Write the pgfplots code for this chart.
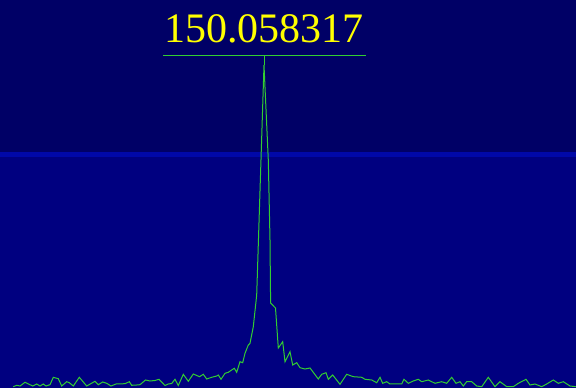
\documentclass[border=0pt]{standalone}
\usepackage{fontspec}
\setmainfont{Liberation Serif}
\usepackage{pgfplots}
\pgfplotsset{compat=1.18}

\definecolor{skytop}{RGB}{0,0,102}
\definecolor{skyband}{RGB}{0,8,168}
\definecolor{skybottom}{RGB}{0,0,128}
\definecolor{trace}{RGB}{50,205,50}
\definecolor{markerlabel}{RGB}{255,255,0}

\begin{document}
\begin{tikzpicture}
\begin{axis}[
  width=576pt, height=388pt, scale only axis,
  xmin=0, xmax=576, ymin=0, ymax=388,
  hide axis,
]
% display background: upper and lower panes with a brighter seam between them
\fill[skybottom] (axis cs:0,0) rectangle (axis cs:576,231);
\fill[skyband]   (axis cs:0,231) rectangle (axis cs:576,236);
\fill[skytop]    (axis cs:0,236) rectangle (axis cs:576,388);

% spectrum trace
\addplot[trace, line width=1pt, mark=none] coordinates {
(13.3,1.3) (16.7,2.7) (20,2) (25,5.7) (30,3.3) (32.7,2) (36.7,4) (40,2)
(43.3,4) (46,2) (50,3.3) (53.3,10.7) (58.3,9.3) (61.7,2) (66.7,6.3) (69.3,5.3)
(73.3,2) (79.3,10.7) (86.7,2) (95,6.7) (98.3,3.3) (102.7,6) (106.7,4.7) (111,2)
(116,4) (125,4.3) (129.3,6.3) (131.7,2.7) (136.7,3) (140,3.3) (145.5,8) (150,7)
(155,7.5) (159,8.7) (165,2.5) (168.3,4) (171.7,4.5) (175,8.7) (178.3,2.5)
(183.3,13.7) (188.3,6.7) (193.3,14) (199.5,11.3) (203.3,13.7) (206.7,9)
(211.7,10.7) (216.7,12) (218.3,13) (221,8.7) (225,14.7) (228.3,15.7) (231.7,18)
(234.3,19.7) (236.7,15.7) (240,26.3) (242.7,25.3) (245,34.7) (248.3,43)
(250,44.7) (253.3,61.3) (256.7,93) (264,323) (268.3,228) (270,148) (270.6,85)
(275.5,80) (278.3,40) (282.7,46.3) (285,26.3) (290,36.3) (292.7,23) (296.7,25.3)
(300,20.3) (305,19) (310,20) (318.3,9) (321.7,13.7) (326,15.3) (328.3,8.7)
(332.7,13) (340,3.7) (346.7,13.7) (353.3,11.3) (361.7,10.7) (365,8.7) (371.7,8)
(376.7,5.3) (380,10.7) (382.7,4.7) (386.7,6.3) (390,4) (401.7,4) (404,8.7)
(408.3,4.7) (413.3,7) (418.3,8.7) (421.7,6.3) (428.3,8) (435,4.7) (441.7,6.3)
(446.7,4.7) (451.7,10.7) (456,4.7) (460,6.3) (463.3,2) (466.7,6.3) (471.7,6.3)
(476.7,2) (481.7,1.3) (488.3,10.7) (495,1.3) (500,6.3) (506.7,1.3) (513.3,1.3)
(518.3,4.7) (526,8.7) (530,3) (535,4) (541.7,1.3) (546.7,4) (553.3,8)
(558.3,4.7) (563.3,6.3) (570,2) (576,1.3)
};

% peak marker: bracket line and stem down to the peak
\addplot[trace, line width=1pt, mark=none] coordinates {(163.3,332) (366,332)};
\addplot[trace, line width=1pt, mark=none] coordinates {(264.7,332) (264.7,323)};

% peak frequency readout
\node[anchor=base, text=markerlabel, font=\fontsize{42}{42}\selectfont, inner sep=0pt]
  at (axis cs:264,345) {150.058317};
\end{axis}
\end{tikzpicture}
\end{document}
